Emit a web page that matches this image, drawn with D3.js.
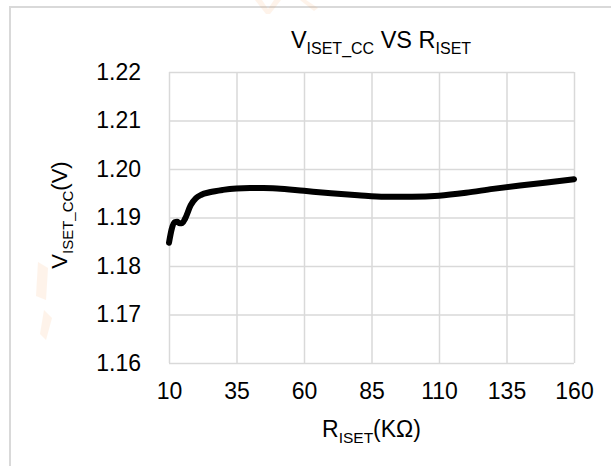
<!DOCTYPE html>
<html>
<head>
<meta charset="utf-8">
<script src="https://cdn.jsdelivr.net/npm/d3@7/dist/d3.min.js"></script>
<style>
  html, body { margin: 0; padding: 0; background: #fff; }
  svg { display: block; font-family: "Liberation Sans", Arial, sans-serif; }
</style>
</head>
<body>
<svg id="chart" width="611" height="466"></svg>
<script>
// R_ISET in kΩ
const riset = [10, 11, 12, 13, 14, 15, 16, 18, 20, 22, 25, 30, 35, 40, 45, 50,
               60, 70, 80, 90, 100, 110, 120, 130, 140, 150, 160];
// V_ISET_CC in volts
const vIsetCc = [1.1848, 1.1876, 1.1890, 1.1891, 1.1888, 1.1889, 1.1898, 1.1925,
                 1.1940, 1.1947, 1.1952, 1.1957, 1.1960, 1.1961, 1.1961, 1.1960,
                 1.1955, 1.1950, 1.1946, 1.1943, 1.1943, 1.1945, 1.1951, 1.1959,
                 1.1966, 1.1972, 1.1979];
const xTicks = [10, 35, 60, 85, 110, 135, 160];
const yTicks = [1.16, 1.17, 1.18, 1.19, 1.20, 1.21, 1.22];

const svg = d3.select("#chart");
const gridColor = "#d9d9d9";

// outer chart frame (extends past the right and bottom edges)
svg.append("rect")
  .attr("x", 10).attr("y", 7)
  .attr("width", 640).attr("height", 500)
  .attr("fill", "none")
  .attr("stroke", gridColor)
  .attr("stroke-width", 2);

// faint background logo marks
const mark = svg.append("g").attr("fill", "#f7a35c").attr("opacity", 0.12);
mark.append("path").attr("d", "M255,0 L262,0 L268,9 L274,0 L281,0 L270,14 L266,14 Z");
mark.append("path").attr("d", "M300,0 L306,0 L318,8 L314,11 Z");
mark.append("path").attr("d", "M38,262 L48,268 L46,300 L36,296 Z");
mark.append("path").attr("d", "M44,310 L52,318 L46,340 L40,334 Z");

const x = d3.scaleLinear().domain([10, 160]).range([169, 574]);
const y = d3.scaleLinear().domain([1.16, 1.22]).range([363, 72]);

// horizontal gridlines
svg.append("g")
  .attr("transform", `translate(${x(10)},0)`)
  .call(d3.axisLeft(y).tickValues(yTicks).tickSize(-(x(160) - x(10))).tickFormat(""))
  .call(g => g.select(".domain").remove())
  .call(g => g.selectAll("line").attr("stroke", gridColor).attr("stroke-width", 1.5));

// vertical gridlines
svg.append("g")
  .attr("transform", `translate(0,${y(1.16)})`)
  .call(d3.axisBottom(x).tickValues(xTicks).tickSize(-(y(1.16) - y(1.22))).tickFormat(""))
  .call(g => g.select(".domain").remove())
  .call(g => g.selectAll("line").attr("stroke", gridColor).attr("stroke-width", 1.5));

// y tick labels
svg.append("g")
  .attr("transform", `translate(${x(10)},0)`)
  .call(d3.axisLeft(y).tickValues(yTicks).tickSize(0).tickPadding(28).tickFormat(d3.format(".2f")))
  .call(g => g.select(".domain").remove())
  .call(g => g.selectAll("text").attr("font-size", 23).attr("fill", "#000")
    .attr("font-family", "Liberation Sans, Arial, sans-serif"));

// x tick labels
svg.append("g")
  .attr("transform", `translate(0,${y(1.16)})`)
  .call(d3.axisBottom(x).tickValues(xTicks).tickSize(0).tickPadding(20).tickFormat(d3.format("d")))
  .call(g => g.select(".domain").remove())
  .call(g => g.selectAll("text").attr("font-size", 23).attr("fill", "#000")
    .attr("font-family", "Liberation Sans, Arial, sans-serif"));

// data curve
const line = d3.line()
  .x((d, i) => x(riset[i]))
  .y(d => y(d))
  .curve(d3.curveMonotoneX);

svg.append("path")
  .datum(vIsetCc)
  .attr("d", line)
  .attr("fill", "none")
  .attr("stroke", "#000")
  .attr("stroke-width", 6)
  .attr("stroke-linejoin", "round")
  .attr("stroke-linecap", "round");

// text with subscripts: parts = [[text, isSub], ...]
function subText(parent, parts, size, subSize) {
  const t = parent.append("text").attr("font-size", size).attr("fill", "#000");
  parts.forEach(([s, sub], i) => {
    const ts = t.append("tspan").text(s);
    const prevSub = i > 0 && parts[i - 1][1];
    if (sub && !prevSub) ts.attr("font-size", subSize).attr("dy", 6);
    else if (!sub && prevSub) ts.attr("dy", -6);
    else if (sub) ts.attr("font-size", subSize);
  });
  return t;
}

// title
subText(svg, [["V", false], ["ISET_CC", true], [" VS R", false], ["ISET", true]], 23.5, 16)
  .attr("x", 381).attr("y", 48).attr("text-anchor", "middle");

// x-axis title
subText(svg, [["R", false], ["ISET", true], ["(KΩ)", false]], 23, 15.5)
  .attr("x", 371.5).attr("y", 437).attr("text-anchor", "middle");

// y-axis title
subText(svg, [["V", false], ["ISET_CC", true], ["(V)", false]], 22, 15)
  .attr("text-anchor", "middle")
  .attr("transform", "translate(67,215) rotate(-90)");
</script>
</body>
</html>
